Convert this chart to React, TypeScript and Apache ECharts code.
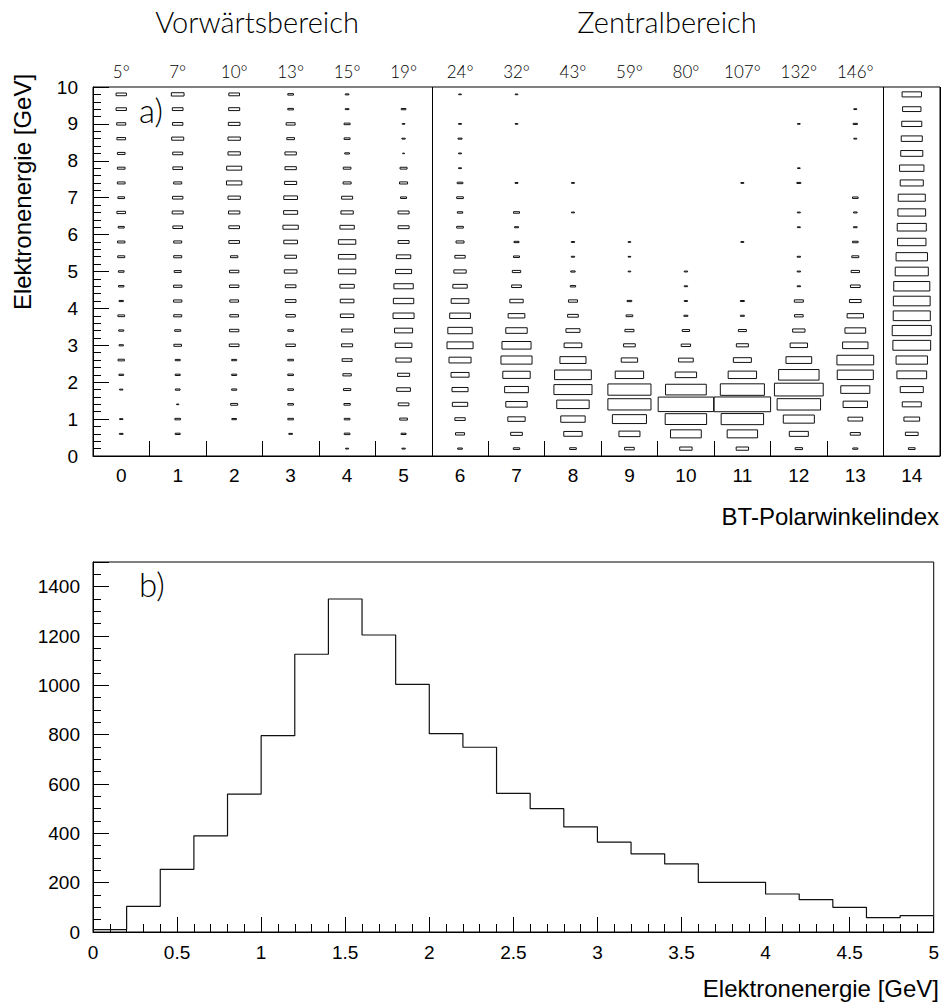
import React, { useEffect, useRef } from "react";
import * as echarts from "echarts";

// ---- Panel a): BT polar angle index vs. electron energy (box plot of cell contents) ----
const btIndex = ["0", "1", "2", "3", "4", "5", "6", "7", "8", "9", "10", "11", "12", "13", "14"];
const polarAngles = ["5°", "7°", "10°", "13°", "15°", "19°", "24°", "32°", "43°", "59°", "80°", "107°", "132°", "146°", ""];
// energy bin centres [GeV], 0.4 GeV wide bins
const energyRows = [0.2, 0.6, 1.0, 1.4, 1.8, 2.2, 2.6, 3.0, 3.4, 3.8, 4.2, 4.6, 5.0, 5.4, 5.8, 6.2, 6.6, 7.0, 7.4, 7.8, 8.2, 8.6, 9.0, 9.4, 9.8];
const energyStep = 0.4;

// cell contents (relative units), listed from 0.2 GeV upward
const bt0 = [0, 11, 10, 0, 10, 14, 19, 13, 15, 20, 13, 16, 17, 21, 22, 18, 26, 20, 23, 23, 23, 26, 27, 31, 31];
const bt1 = [0, 15, 17, 7, 14, 15, 15, 23, 18, 24, 25, 25, 21, 24, 24, 29, 33, 31, 24, 29, 30, 36, 31, 32, 38];
const bt2 = [0, 0, 14, 21, 15, 15, 15, 29, 28, 26, 26, 28, 28, 22, 32, 32, 34, 37, 46, 45, 37, 37, 35, 33, 32];
const bt3 = [0, 11, 17, 17, 17, 17, 17, 28, 17, 28, 32, 32, 38, 35, 41, 46, 42, 41, 36, 34, 34, 23, 27, 17, 17];
const bt4 = [9, 17, 17, 19, 22, 25, 30, 33, 33, 40, 41, 43, 52, 52, 52, 43, 37, 33, 24, 23, 14, 18, 18, 11, 11];
const bt5 = [10, 15, 23, 32, 41, 36, 46, 50, 54, 63, 61, 58, 48, 43, 33, 33, 33, 18, 24, 21, 6, 10, 8, 14, 0];
const bt6 = [14, 27, 31, 46, 48, 54, 66, 78, 73, 62, 53, 43, 37, 31, 24, 20, 16, 20, 17, 9, 9, 12, 9, 0, 8];
const bt7 = [19, 35, 52, 64, 71, 82, 93, 87, 64, 50, 40, 29, 25, 18, 15, 12, 18, 0, 9, 0, 0, 0, 8, 0, 8];
const bt8 = [20, 55, 73, 97, 114, 110, 78, 53, 42, 32, 27, 16, 13, 10, 10, 0, 9, 0, 9, 0, 0, 0, 0, 0, 0];
const bt9 = [29, 63, 102, 129, 129, 85, 49, 35, 27, 20, 14, 0, 8, 8, 8, 0, 0, 0, 0, 0, 0, 0, 0, 0, 0];
const bt10 = [37, 92, 124, 166, 122, 64, 44, 28, 22, 12, 10, 10, 10, 0, 0, 0, 0, 0, 0, 0, 0, 0, 0, 0, 0];
const bt11 = [37, 91, 127, 169, 132, 85, 54, 36, 24, 12, 12, 0, 0, 0, 9, 0, 0, 0, 9, 0, 0, 0, 0, 0, 0];
const bt12 = [22, 57, 93, 130, 146, 121, 77, 52, 37, 26, 27, 10, 10, 10, 0, 9, 9, 0, 12, 8, 0, 0, 8, 0, 0];
const bt13 = [15, 30, 44, 73, 87, 108, 110, 76, 62, 49, 35, 29, 25, 21, 17, 11, 11, 17, 0, 0, 0, 9, 13, 9, 0];
const bt14 = [20, 38, 47, 57, 69, 89, 94, 113, 117, 111, 110, 108, 99, 94, 85, 87, 83, 81, 69, 73, 66, 63, 60, 55, 58];
const btColumns = [bt0, bt1, bt2, bt3, bt4, bt5, bt6, bt7, bt8, bt9, bt10, bt11, bt12, bt13, bt14];
const contentMax = 169;

// ---- Panel b): electron energy spectrum ----
const energyBinEdges = [0, 0.2, 0.4, 0.6, 0.8, 1.0, 1.2, 1.4, 1.6, 1.8, 2.0, 2.2, 2.4, 2.6, 2.8, 3.0, 3.2, 3.4, 3.6, 3.8, 4.0, 4.2, 4.4, 4.6, 4.8];
const energyMax = 5;
const energyCounts = [10, 104, 254, 390, 559, 796, 1126, 1350, 1204, 1004, 804, 749, 562, 500, 426, 364, 317, 276, 201, 201, 154, 131, 100, 58, 66];

const boxData: number[][] = [];
btColumns.forEach((col, i) => {
  col.forEach((v, j) => {
    if (v > 0) boxData.push([i, energyRows[j], v]);
  });
});

const stepData: number[][] = energyBinEdges.map((e, i) => [e, energyCounts[i]]);
stepData.push([energyMax, energyCounts[energyCounts.length - 1]]);

const TICK_FONT = "Liberation Sans";
const THIN_FONT = "Lato";

export default function App() {
  const ref = useRef<HTMLDivElement>(null);
  useEffect(() => {
    if (!ref.current) return;
    const chart = echarts.init(ref.current, undefined, { renderer: "svg" });
    const tickLabel = { color: "#000", fontSize: 19, fontFamily: TICK_FONT };
    const axisLine = { show: true, lineStyle: { color: "#000", width: 1 } };
    chart.setOption({
      animation: false,
      textStyle: { fontFamily: TICK_FONT },
      grid: [
        { left: 93, top: 87, width: 847, height: 369, show: true, borderColor: "#000", borderWidth: 1, backgroundColor: "transparent" },
        { left: 93, top: 562, width: 847, height: 370, show: true, borderColor: "#000", borderWidth: 1, backgroundColor: "transparent" },
      ],
      xAxis: [
        {
          gridIndex: 0,
          type: "category",
          data: btIndex,
          boundaryGap: true,
          axisLine,
          axisTick: { show: true, inside: true, length: 15, lineStyle: { color: "#000" } },
          axisLabel: { ...tickLabel, margin: 10, interval: 0 },
          splitLine: {
            show: true,
            interval: (i: number) => i === 6 || i === 14,
            lineStyle: { color: "#000", width: 1 },
          },
        },
        {
          gridIndex: 0,
          type: "category",
          position: "top",
          data: btIndex,
          boundaryGap: true,
          axisLine: { show: false },
          axisTick: { show: false },
          axisLabel: {
            interval: 0,
            margin: 7,
            color: "#000",
            fontSize: 17,
            fontFamily: THIN_FONT,
            fontWeight: 300,
            formatter: (v: string) => polarAngles[Number(v)],
          },
          splitLine: { show: false },
        },
        {
          gridIndex: 1,
          type: "value",
          min: 0,
          max: energyMax,
          interval: 0.5,
          axisLine,
          axisTick: { show: true, inside: true, length: 15, lineStyle: { color: "#000" } },
          minorTick: { show: true, splitNumber: 5, length: 8, lineStyle: { color: "#000" } },
          axisLabel: { ...tickLabel, margin: 11 },
          splitLine: { show: false },
        },
      ],
      yAxis: [
        {
          gridIndex: 0,
          type: "value",
          min: 0,
          max: 10,
          interval: 1,
          axisLine,
          axisTick: { show: true, inside: true, length: 16, lineStyle: { color: "#000" } },
          minorTick: { show: true, splitNumber: 5, length: 8, lineStyle: { color: "#000" } },
          axisLabel: { ...tickLabel, margin: 15 },
          splitLine: { show: false },
        },
        {
          gridIndex: 1,
          type: "value",
          min: 0,
          max: 1500,
          interval: 200,
          axisLine,
          axisTick: { show: true, inside: true, length: 16, lineStyle: { color: "#000" } },
          minorTick: { show: true, splitNumber: 4, length: 8, lineStyle: { color: "#000" } },
          axisLabel: { ...tickLabel, margin: 13, formatter: (v: number) => (v > 1400 ? "" : String(v)) },
          splitLine: { show: false },
        },
      ],
      series: [
        {
          type: "custom",
          xAxisIndex: 0,
          yAxisIndex: 0,
          data: boxData,
          renderItem: (params: any, api: any) => {
            const c = api.coord([api.value(0), api.value(1)]);
            const size = api.size([1, energyStep]);
            const f = api.value(2) / contentMax;
            const w = size[0] * f;
            const h = size[1] * f;
            return {
              type: "rect",
              shape: { x: c[0] - w / 2, y: c[1] - h / 2, width: w, height: h },
              style: { fill: "#fff", stroke: "#111", lineWidth: 1 },
            };
          },
        },
        {
          type: "line",
          xAxisIndex: 2,
          yAxisIndex: 1,
          step: "end",
          data: stepData,
          symbol: "none",
          lineStyle: { color: "#111", width: 1.2 },
        },
      ],
      graphic: [
        {
          type: "text",
          x: 257,
          y: 21,
          style: { text: "Vorwärtsbereich", fontSize: 29, fontFamily: THIN_FONT, fontWeight: 300, fill: "#000", align: "center", verticalAlign: "middle" },
        },
        {
          type: "text",
          x: 667,
          y: 21,
          style: { text: "Zentralbereich", fontSize: 29, fontFamily: THIN_FONT, fontWeight: 300, fill: "#000", align: "center", verticalAlign: "middle" },
        },
        {
          type: "text",
          x: 139,
          y: 110,
          style: { text: "a)", fontSize: 33, fontFamily: THIN_FONT, fontWeight: 300, fill: "#000", align: "left", verticalAlign: "middle" },
        },
        {
          type: "text",
          x: 139,
          y: 584,
          style: { text: "b)", fontSize: 33, fontFamily: THIN_FONT, fontWeight: 300, fill: "#000", align: "left", verticalAlign: "middle" },
        },
        {
          type: "text",
          x: 22,
          y: 192,
          rotation: Math.PI / 2,
          style: { text: "Elektronenergie [GeV]", fontSize: 24, fontFamily: TICK_FONT, fill: "#000", align: "center", verticalAlign: "middle" },
        },
        {
          type: "text",
          x: 939,
          y: 516,
          style: { text: "BT-Polarwinkelindex", fontSize: 24, fontFamily: TICK_FONT, fill: "#000", align: "right", verticalAlign: "middle" },
        },
        {
          type: "text",
          x: 939,
          y: 988,
          style: { text: "Elektronenergie [GeV]", fontSize: 24, fontFamily: TICK_FONT, fill: "#000", align: "right", verticalAlign: "middle" },
        },
      ],
    });
    return () => chart.dispose();
  }, []);
  return <div ref={ref} style={{ position: "absolute", left: 0, top: 0, width: 942, height: 1007 }} />;
}
